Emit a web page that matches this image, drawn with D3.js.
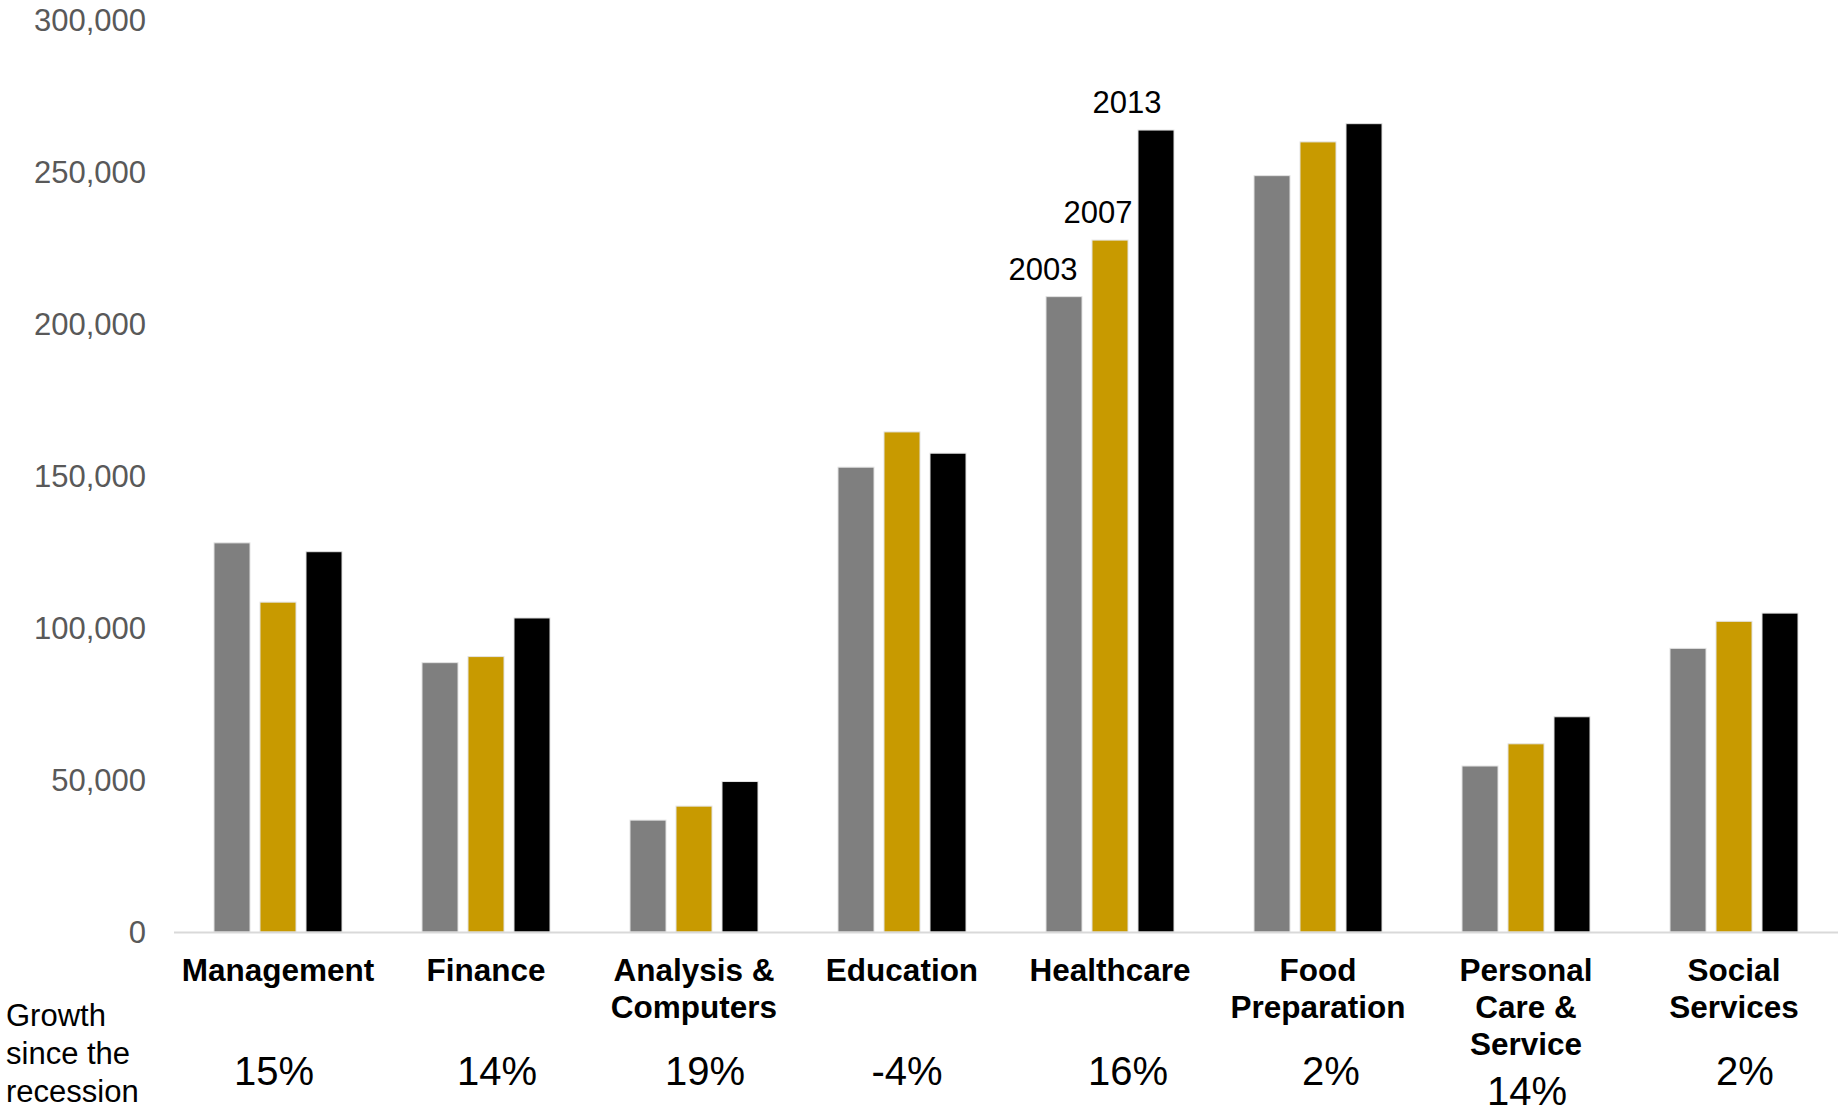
<!DOCTYPE html>
<html>
<head>
<meta charset="utf-8">
<script src="https://cdn.jsdelivr.net/npm/d3@7"></script>
<style>
  body { margin: 0; background: #fff; }
  svg { display: block; font-family: "Liberation Sans", Arial, sans-serif; }
</style>
</head>
<body>
<svg id="chart" width="1845" height="1108"></svg>
<script>
// data
const categories = ['Management', 'Finance', 'Analysis & Computers', 'Education',
  'Healthcare', 'Food Preparation', 'Personal Care & Service', 'Social Services'];
const categoryLines = [['Management'], ['Finance'], ['Analysis &', 'Computers'], ['Education'],
  ['Healthcare'], ['Food', 'Preparation'], ['Personal', 'Care &', 'Service'], ['Social', 'Services']];
const years = ['2003', '2007', '2013'];
const values2003 = [128000, 88600, 36800, 152900, 209000, 248800, 54600, 93300];
const values2007 = [108500, 90600, 41400, 164500, 227600, 259900, 61900, 102200];
const values2013 = [125100, 103300, 49500, 157500, 263800, 265900, 70800, 104900];
const growth = ['15%', '14%', '19%', '-4%', '16%', '2%', '14%', '2%'];
const yTicks = [0, 50000, 100000, 150000, 200000, 250000, 300000];

const colors = { '2003': '#7f7f7f', '2007': '#c89a00', '2013': '#000000' };

const svg = d3.select('#chart');

const x0 = d3.scaleBand().domain(categories).range([174, 1838]).padding(0);
const x1 = d3.scaleBand().domain(years).range([40, 168]).paddingInner(10 / 46).paddingOuter(0);
const y = d3.scaleLinear().domain([0, 300000]).range([932, 20]);

// y tick labels (no axis line)
svg.append('g')
  .selectAll('text')
  .data(yTicks)
  .join('text')
  .attr('x', 146)
  .attr('y', d => y(d))
  .attr('dy', '0.35em')
  .attr('text-anchor', 'end')
  .attr('font-size', 31)
  .attr('fill', '#595959')
  .text(d => d3.format(',')(d));

// bars
const series = years.map((yr, i) => ({
  year: yr,
  values: [values2003, values2007, values2013][i]
}));

const groups = svg.append('g')
  .selectAll('g')
  .data(categories)
  .join('g')
  .attr('transform', d => `translate(${x0(d)},0)`);

groups.selectAll('rect')
  .data((c, ci) => series.map(s => ({ year: s.year, value: s.values[ci], cat: c })))
  .join('rect')
  .attr('x', d => x1(d.year))
  .attr('y', d => y(d.value))
  .attr('width', x1.bandwidth())
  .attr('height', d => y(0) - y(d.value))
  .attr('fill', d => colors[d.year])
  .attr('stroke', '#e3e3e3')
  .attr('stroke-width', 1);

// baseline
svg.append('line')
  .attr('x1', 174).attr('x2', 1838)
  .attr('y1', y(0) + 0.5).attr('y2', y(0) + 0.5)
  .attr('stroke', '#d9d9d9')
  .attr('stroke-width', 2);

// year labels above healthcare bars (hand placed text boxes in the original)
const hc = 'Healthcare';
const hcIndex = categories.indexOf(hc);
const yearNudge = { '2003': -21, '2007': -12, '2013': -29 };
svg.append('g')
  .selectAll('text')
  .data(series)
  .join('text')
  .attr('x', d => x0(hc) + x1(d.year) + x1.bandwidth() / 2 + yearNudge[d.year])
  .attr('y', d => y(d.values[hcIndex]) - 17)
  .attr('text-anchor', 'middle')
  .attr('font-size', 31)
  .attr('fill', '#000')
  .text(d => d.year);

// category labels
const lineH = 37;
const catG = svg.append('g')
  .selectAll('text')
  .data(categories)
  .join('text')
  .attr('text-anchor', 'middle')
  .attr('font-size', 31.5)
  .attr('font-weight', 'bold')
  .attr('fill', '#000');

catG.each(function(c, i) {
  d3.select(this).selectAll('tspan')
    .data(categoryLines[i])
    .join('tspan')
    .attr('x', x0(c) + x0.bandwidth() / 2)
    .attr('y', (d, j) => 981 + j * lineH)
    .text(d => d);
});

// growth row
svg.append('text')
  .attr('font-size', 31)
  .attr('fill', '#000')
  .selectAll('tspan')
  .data(['Growth', 'since the', 'recession'])
  .join('tspan')
  .attr('x', 6)
  .attr('y', (d, j) => 1026 + j * 38)
  .text(d => d);

// percent boxes sit a bit off-centre in the original
const growthNudge = [-4, 11, 11, 5, 18, 13, 1, 11];
svg.append('g')
  .selectAll('text')
  .data(growth)
  .join('text')
  .attr('x', (d, i) => x0(categories[i]) + x0.bandwidth() / 2 + growthNudge[i])
  .attr('y', (d, i) => categoryLines[i].length > 2 ? 1105 : 1085)
  .attr('text-anchor', 'middle')
  .attr('font-size', 40)
  .attr('fill', '#000')
  .text(d => d);
</script>
</body>
</html>
